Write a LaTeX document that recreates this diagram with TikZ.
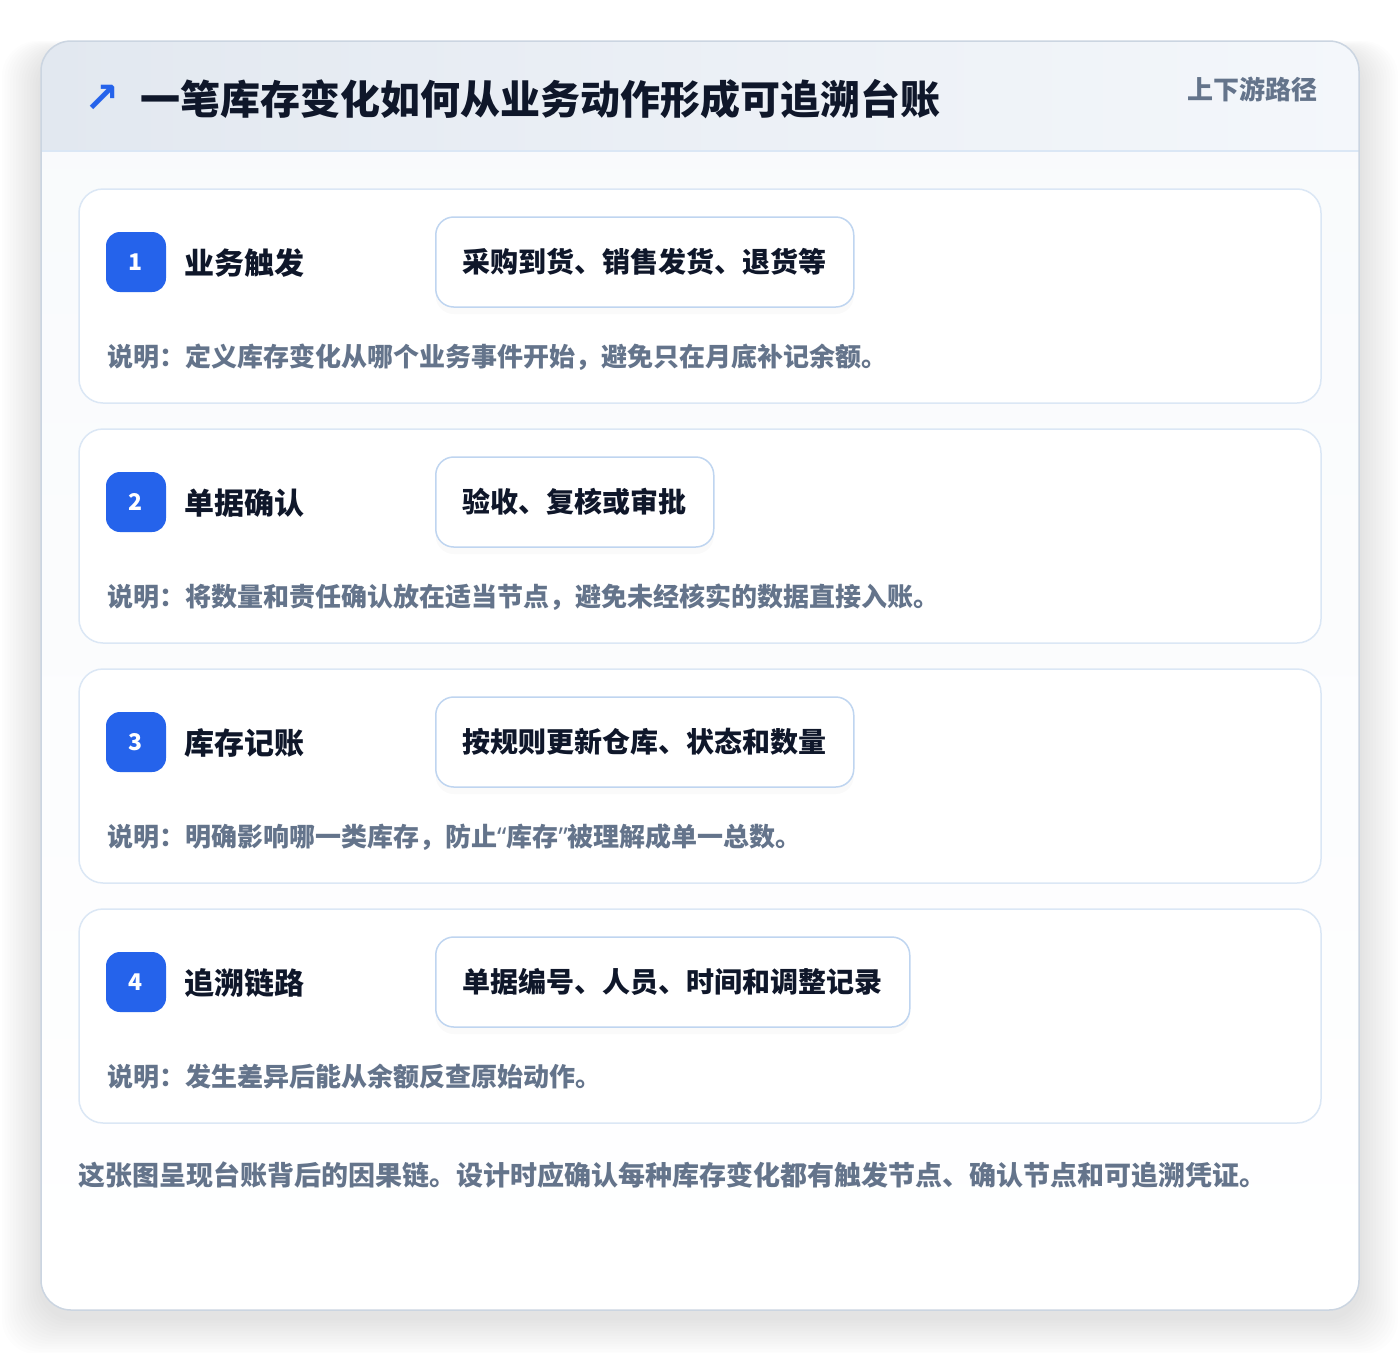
\documentclass[tikz,border=0pt]{standalone}
\usepackage{fontspec}
\setmainfont{Noto Sans CJK SC}
\newfontfamily\symfont{DejaVu Sans}
\newfontfamily\quotefont{Noto Sans}
\usetikzlibrary{shadows}

\definecolor{ink}{HTML}{0F172A}
\definecolor{muted}{HTML}{64748B}
\definecolor{accent}{HTML}{2563EB}
\definecolor{cardline}{HTML}{CBD5E1}
\definecolor{stepline}{HTML}{DBE7F5}
\definecolor{pillline}{HTML}{BFD5F0}
\definecolor{headL}{HTML}{E2E8F0}
\definecolor{headR}{HTML}{F4F7FB}
\definecolor{bodytop}{HTML}{F8FAFC}

\newcommand{\openq}{{\quotefont “}}
\newcommand{\closeq}{{\quotefont ”}}

\tikzset{
  stepbox/.style={draw=stepline,fill=white,line width=1.5pt,rounded corners=24pt},
  badge/.style={fill=accent,text=white,rounded corners=14pt,minimum size=60pt,inner sep=0pt,
    font=\fontsize{23}{27}\selectfont\bfseries},
  steptitle/.style={text=ink,inner sep=0pt,font=\fontsize{30}{36}\selectfont\bfseries},
  pill/.style={draw=pillline,fill=white,line width=1.5pt,rounded corners=18pt,
    minimum height=90pt,inner xsep=27pt,text=ink,font=\fontsize{28}{34}\selectfont\bfseries,
    drop shadow={opacity=0.04,shadow xshift=0pt,shadow yshift=-7pt}},
  note/.style={text=muted,inner sep=0pt,font=\fontsize{26}{32}\selectfont\bfseries}
}

\begin{document}
\begin{tikzpicture}[x=1pt,y=-1pt]
\useasboundingbox (0,0) rectangle (1400,1352);
\fill[white] (0,0) rectangle (1400,1352);

%soft shadow round the card
\foreach \s in {1,...,14}
	{
	\fill[black,opacity=0.006,rounded corners=36pt] (41-\s*2.8,52-\s*0.8) rectangle (1359+\s*2.8,1318+\s*2.6);
	}

%card body and header band
\shade[top color=bodytop,bottom color=white,rounded corners=30pt] (41,41) rectangle (1359,1310);
\begin{scope}
	\clip[rounded corners=30pt] (41,41) rectangle (1359,1310);
	\shade[left color=headL,right color=headR] (41,41) rectangle (1359,151);
\end{scope}
\draw[stepline,line width=1.5pt] (41,151) -- (1359,151);
\draw[cardline,line width=1.5pt,rounded corners=30pt] (41,41) rectangle (1359,1310);

%header texts
\node[text=accent,inner sep=0pt,font=\symfont\fontsize{42}{48}\selectfont\bfseries] (icon) at (102,99) {↗};
\node[anchor=west,text=ink,inner sep=0pt,font=\fontsize{40}{48}\selectfont\bfseries] (title) at (140,99) {一笔库存变化如何从业务动作形成可追溯台账};
\node[anchor=east,text=muted,inner sep=0pt,font=\fontsize{26}{32}\selectfont\bfseries] (tag) at (1318,89) {上下游路径};

%draw the four steps
\foreach \n/\head/\act/\why in {
	1/业务触发/采购到货、销售发货、退货等/说明：定义库存变化从哪个业务事件开始，避免只在月底补记余额。,
	2/单据确认/验收、复核或审批/说明：将数量和责任确认放在适当节点，避免未经核实的数据直接入账。,
	3/库存记账/按规则更新仓库、状态和数量/说明：明确影响哪一类库存，防止\openq 库存\closeq 被理解成单一总数。,
	4/追溯链路/单据编号、人员、时间和调整记录/说明：发生差异后能从余额反查原始动作。}
	{
	\pgfmathsetmacro\rowy{189+(\n-1)*240}
	\draw[stepbox] (79,\rowy) rectangle (1321,\rowy+214);
	\node[badge] (badge\n) at (136,\rowy+73) {\n};
	\node[steptitle,anchor=west] (head\n) at (184,\rowy+74) {\head};
	\node[pill,anchor=west] (act\n) at (435,\rowy+73) {\act};
	\node[note,anchor=west] (why\n) at (107,\rowy+168) {\why};
	}

%closing remark
\node[note,anchor=west,font=\fontsize{27}{32}\selectfont\bfseries] (summary) at (78,1175) {这张图呈现台账背后的因果链。设计时应确认每种库存变化都有触发节点、确认节点和可追溯凭证。};

\end{tikzpicture}
\end{document}
